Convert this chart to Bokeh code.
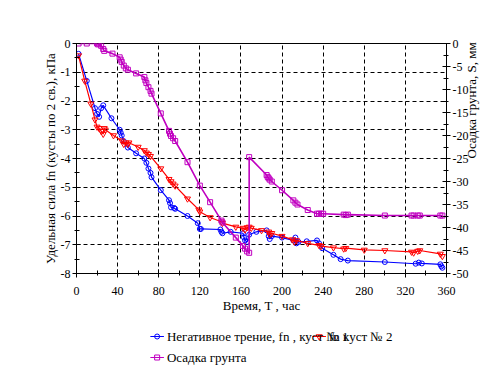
import math
from bokeh.plotting import figure
from bokeh.layouts import column
from bokeh.models import (Range1d, LinearAxis, SingleIntervalTicker, Label)
from bokeh.embed import file_html
from bokeh.resources import INLINE

# ---- data ----
blue_t = [2, 10, 18, 20, 22, 24, 26, 34, 42, 43, 44, 46, 50, 58, 66, 68, 70, 72, 73, 82, 90, 91, 92, 95, 96,
          108, 118, 120, 121, 140, 141, 142, 150, 162, 163, 164, 166, 168, 175, 185, 187, 188, 190, 200,
          211, 213, 214, 216, 224, 234, 236, 239, 250, 257, 264, 300, 330, 333, 336, 354, 355, 356]
blue_fn = [-0.36, -1.3, -2.25, -2.45, -2.55, -2.25, -2.15, -2.6, -3.0, -3.1, -3.2, -3.4, -3.62, -3.82, -4.0,
           -4.15, -4.35, -4.5, -4.65, -5.1, -5.45, -5.55, -5.7, -5.72, -5.75, -6.0, -6.25, -6.45, -6.45,
           -6.47, -6.55, -6.6, -6.55, -6.6, -6.75, -6.85, -6.9, -6.65, -6.55, -6.5, -6.7, -6.8, -6.7, -6.75,
           -6.85, -6.75, -6.95, -6.9, -6.88, -6.85, -6.95, -7.12, -7.35, -7.5, -7.55, -7.6, -7.66, -7.62,
           -7.65, -7.68, -7.75, -7.8]

red_t = [2, 8, 14, 18, 20, 22, 24, 26, 27, 28, 36, 44, 46, 48, 50, 51, 60, 66, 68, 70, 72, 82, 90, 92, 94, 96,
         108, 119, 120, 130, 141, 142, 155, 162, 164, 166, 168, 170, 180, 187, 188, 190, 200, 210, 212, 214,
         225, 236, 238, 250, 260, 262, 280, 300, 326, 328, 332, 334, 354, 356]
red_fn = [-0.42, -1.3, -2.1, -2.65, -2.9, -2.95, -3.05, -3.15, -2.95, -3.0, -3.2, -3.38, -3.5, -3.45, -3.5,
          -3.45, -3.6, -3.72, -3.8, -3.85, -3.92, -4.35, -4.72, -4.8, -4.88, -4.95, -5.4, -5.78, -5.85, -6.05,
          -6.2, -6.25, -6.38, -6.42, -6.48, -6.4, -6.38, -6.42, -6.5, -6.55, -6.65, -6.6, -6.7, -6.82, -6.9,
          -6.85, -6.95, -7.02, -7.05, -7.1, -7.14, -7.12, -7.18, -7.2, -7.25, -7.28, -7.22, -7.2, -7.32, -7.4]

soil_t = [2, 10, 20, 21, 22, 24, 26, 27, 35, 42, 43, 44, 46, 48, 50, 58, 66, 67, 68, 70, 72, 73, 82, 90, 91, 92,
          94, 96, 108, 120, 130, 141, 142, 155, 162, 164, 166, 168, 168, 185, 186, 187, 188, 190, 200, 211,
          213, 215, 225, 234, 236, 238, 240, 260, 262, 264, 300, 326, 328, 332, 334, 354, 356]
soil_s = [0, 0, 0, -0.2, 0, -0.5, -1.2, -1.6, -2.2, -3.0, -3.5, -4.0, -4.8, -5.4, -5.7, -6.5, -7.3, -8.0, -8.6,
          -9.5, -10.3, -10.9, -15.2, -19.0, -19.6, -20.1, -20.6, -21.2, -25.8, -30.9, -34.5, -38.5, -38.9,
          -42.2, -44.0, -44.6, -45.2, -45.5, -24.7, -28.6, -29.0, -29.3, -29.6, -30.0, -31.9, -34.1, -34.6,
          -35.0, -36.2, -37.0, -37.0, -37.0, -37.0, -37.2, -37.3, -37.2, -37.4, -37.4, -37.4, -37.4, -37.4,
          -37.4, -37.4]

x_ticks = [0, 40, 80, 120, 160, 200, 240, 280, 320, 360]
y_ticks = [0, -1, -2, -3, -4, -5, -6, -7, -8]
s_ticks = [0, -5, -10, -15, -20, -25, -30, -35, -40, -45, -50]

labels = ["Негативное трение, fn , куст № 1", "fn куст № 2", "Осадка грунта"]
colors = ["#0000FF", "#FF0000", "#C000C0"]
markers = ["circle", "inverted_triangle", "square"]
marker_sizes = [5, 6, 5]

FONT = "serif"

MAIN_H = 318
p = figure(width=491, height=MAIN_H, x_range=Range1d(0, 360), y_range=Range1d(-8, 0),
           output_backend="svg", toolbar_location=None,
           min_border_left=76, min_border_right=45, min_border_top=43, min_border_bottom=45,
           x_axis_label="Время, Т , час", y_axis_label="Удельная сила fn (кусты по 2 св.), кПа")
p.extra_y_ranges = {"s": Range1d(-50, 0)}

p.outline_line_color = "black"
p.outline_line_width = 1
p.background_fill_color = "white"
p.border_fill_color = "white"

xa = p.xaxis[0]
xa.ticker = SingleIntervalTicker(interval=40, num_minor_ticks=2)
xa.major_label_overrides = {t: str(t) for t in x_ticks}
ya = p.yaxis[0]
ya.ticker = SingleIntervalTicker(interval=1, num_minor_ticks=2)
ya.major_label_overrides = {t: str(t) for t in y_ticks}

ra = LinearAxis(y_range_name="s", ticker=SingleIntervalTicker(interval=5, num_minor_ticks=2),
                axis_label="Осадка грунта, S, мм")
ra.major_label_overrides = {t: str(t) for t in s_ticks}
try:
    ra.axis_label_orientation = math.pi / 2
except Exception:
    pass
p.add_layout(ra, "right")

for ax in (xa, ya, ra):
    ax.axis_line_color = "black"
    ax.major_tick_line_color = "black"
    ax.minor_tick_line_color = "black"
    ax.major_tick_in = 4
    ax.major_tick_out = 4
    ax.minor_tick_in = 3
    ax.minor_tick_out = 2
    ax.major_label_text_font = FONT
    ax.major_label_text_font_size = "12px"
    ax.major_label_text_color = "black"
    ax.axis_label_text_font = FONT
    ax.axis_label_text_font_size = "13px"
    ax.axis_label_text_font_style = "normal"
    ax.axis_label_text_color = "black"
xa.major_label_standoff = 9
xa.axis_label_standoff = 0
ya.major_label_standoff = 2
ya.axis_label_standoff = 0
ra.major_label_standoff = 2
ra.axis_label_standoff = 0

p.xgrid.grid_line_color = "black"
p.xgrid.grid_line_dash = "4 3"
p.xgrid.grid_line_width = 1
p.ygrid.grid_line_color = "black"
p.ygrid.grid_line_dash = "4 3"
p.ygrid.grid_line_width = 1

p.line(blue_t, blue_fn, color=colors[0], line_width=1.2)
p.scatter(blue_t, blue_fn, marker=markers[0], size=marker_sizes[0], line_color=colors[0], fill_color=None, line_width=1)
p.line(red_t, red_fn, color=colors[1], line_width=1.2)
p.scatter(red_t, red_fn, marker=markers[1], size=marker_sizes[1], line_color=colors[1], fill_color=None, line_width=1)
p.line(soil_t, soil_s, color=colors[2], line_width=1.6, y_range_name="s")
p.scatter(soil_t, soil_s, marker=markers[2], size=marker_sizes[2], line_color=colors[2], fill_color=None, line_width=1, y_range_name="s")

# ---- legend strip below the chart (pixel coordinates, y measured from the strip top) ----
LEG_H = 368 - MAIN_H
q = figure(width=491, height=LEG_H, x_range=Range1d(0, 491), y_range=Range1d(LEG_H, 0),
           output_backend="svg", toolbar_location=None, x_axis_location=None, y_axis_location=None,
           min_border=0, min_border_left=0, min_border_right=0, min_border_top=0, min_border_bottom=0)
q.outline_line_color = None
q.grid.visible = False
q.background_fill_color = "white"
q.border_fill_color = "white"

# legend swatch left edges and row centres
sw_x = [98, 313, 98]
sw_y = [18, 18, 39]
SW_W = 18
for lab, col, mk, ms, x0, y0 in zip(labels, colors, markers, marker_sizes, sw_x, sw_y):
    q.segment(x0=[x0], y0=[y0], x1=[x0 + SW_W], y1=[y0], line_color=col, line_width=1.2)
    q.scatter(x=[x0 + SW_W / 2], y=[y0], marker=mk, size=ms, line_color=col, fill_color=None, line_width=1)
    q.add_layout(Label(x=x0 + SW_W + 4, y=y0, text=lab, text_font=FONT, text_font_size="13px",
                       text_baseline="middle", text_align="left", text_color="black"))

layout = column(p, q, spacing=0)
open("out.html", "w").write(file_html(layout, INLINE))
